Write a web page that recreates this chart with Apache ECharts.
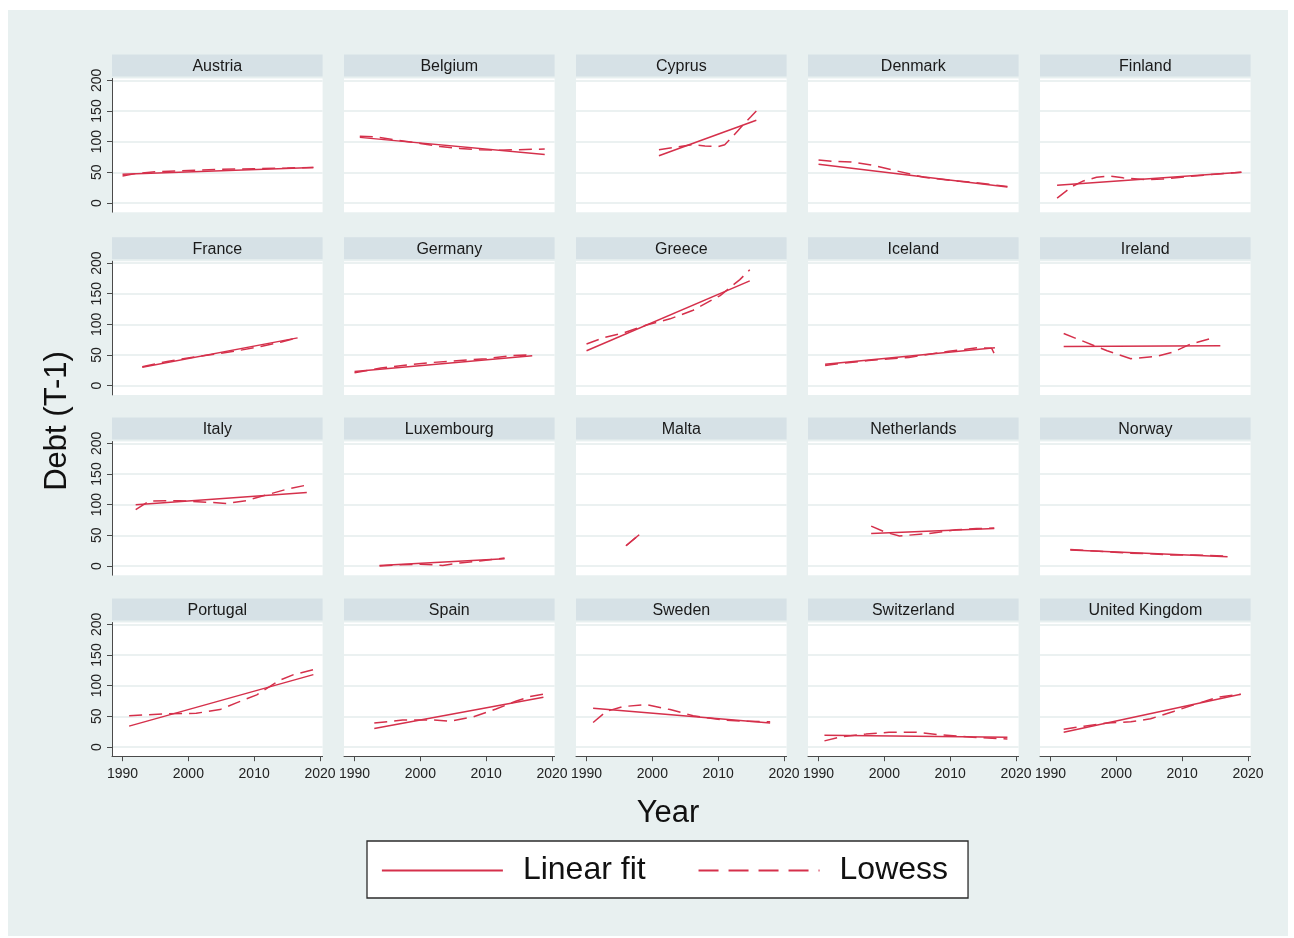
<!DOCTYPE html>
<html>
<head>
<meta charset="utf-8">
<script src="https://cdn.jsdelivr.net/npm/echarts@6/dist/echarts.min.js"></script>
<style>
  html, body { margin: 0; padding: 0; background: #ffffff; }
  #frame { position: absolute; left: 8px; top: 10px; width: 1280px; height: 926px; background: #e8f0f0; }
  #chart { position: absolute; left: 0; top: 0; width: 1294px; height: 938px; }
</style>
</head>
<body>
<div id="frame"></div>
<div id="chart"></div>
<script>
// Panels, in reading order (5 per row)
const countries = ['Austria', 'Belgium', 'Cyprus', 'Denmark', 'Finland',
  'France', 'Germany', 'Greece', 'Iceland', 'Ireland',
  'Italy', 'Luxembourg', 'Malta', 'Netherlands', 'Norway',
  'Portugal', 'Spain', 'Sweden', 'Switzerland', 'United Kingdom'];

// Linear fit of lagged debt on year: [year, debt] at the ends of each country's sample
const fitLines = [
  [[1990, 47], [2019, 58]],
  [[1990.8, 107], [2018.9, 79]],
  [[2001, 77], [2015.8, 135]],
  [[1990, 63], [2018.7, 26]],
  [[1991, 29], [2019, 50]],
  [[1993, 30], [2016.6, 78]],
  [[1990, 23], [2017, 49]],
  [[1990, 57], [2014.8, 171]],
  [[1991, 35], [2016.8, 62]],
  [[1992, 64], [2015.8, 65]],
  [[1992, 100], [2018, 120]],
  [[1993.8, 1], [2012.8, 12]],
  [[1996, 33], [1998, 51]],
  [[1998, 53], [2016.7, 61]],
  [[1993, 26], [2016.9, 15]],
  [[1991, 34], [2019, 118]],
  [[1993, 30], [2018.7, 81]],
  [[1991, 63], [2017.9, 39]],
  [[1990.9, 19], [2018.7, 16]],
  [[1992, 24], [2018.9, 86]]
];

// Lowess smooth of lagged debt on year
const lowessLines = [
  [[1990, 44], [1992, 48], [1995, 51], [2000, 53], [2005, 55], [2010, 56], [2015, 57], [2019, 58]],
  [[1990.8, 109], [1993, 108], [1996.8, 102], [2000, 97], [2003, 92], [2006, 89], [2009, 87], [2012, 86], [2015, 87], [2018.9, 88]],
  [[2001, 87], [2003, 90], [2006, 95], [2008, 93], [2010, 92], [2011, 95], [2012, 106], [2013, 118], [2014, 130], [2015, 141], [2015.8, 150]],
  [[1990, 70], [1992, 68], [1995, 67], [1998, 62], [2002, 52], [2006, 42], [2010, 37], [2014, 33], [2018.7, 27]],
  [[1991, 8], [1993.3, 27], [1995, 36], [1997, 42], [1999, 44], [2001, 41], [2004.4, 38], [2007, 39], [2010.8, 43], [2015, 47], [2019, 50]],
  [[1993, 31], [1997, 40], [2001, 47], [2005, 53], [2008, 58], [2011, 64], [2014, 71], [2016.6, 78]],
  [[1990, 21], [1994, 29], [1998, 34], [2002, 38], [2006, 41], [2010, 44], [2014, 49], [2016, 50], [2017, 46]],
  [[1990, 68], [1992.5, 78], [1995.6, 86], [1999.1, 99], [2002.7, 109], [2006.2, 123], [2010.3, 147], [2013.3, 173], [2014.8, 189]],
  [[1991, 33], [1994, 37], [1997.6, 41], [2001, 44], [2003.7, 46], [2006, 50], [2009.8, 56], [2014.3, 62], [2016.3, 61], [2016.9, 48]],
  [[1992, 85], [1994.6, 74], [1998.6, 57], [2002.2, 44], [2006.2, 48], [2008.7, 55], [2011.3, 68], [2015.1, 79]],
  [[1992, 92], [1994.1, 106], [1998.7, 106.5], [2002.8, 104], [2005.8, 102], [2008.8, 106.5], [2011.9, 116], [2014.9, 125], [2018, 132]],
  [[1993.8, 0], [1997, 2], [2000, 3], [2003.4, 1], [2006, 5], [2009, 8], [2012.8, 13]],
  [[1996, 33], [1998, 51]],
  [[1998, 65], [2000.2, 55], [2002.3, 49], [2006.8, 53], [2010.9, 59], [2014, 61], [2016.7, 62]],
  [[1993, 27], [1996, 25], [1999, 23], [2002, 21], [2005, 20], [2008, 18], [2012, 18], [2016.9, 16]],
  [[1991, 51], [1996.7, 54], [2001.2, 55], [2004.8, 61], [2007.3, 72], [2010.4, 85], [2013.9, 109], [2016, 118], [2019, 126]],
  [[1993, 39], [1997.3, 44], [2001.9, 44], [2004.4, 42], [2008, 49], [2011.5, 62], [2014.6, 75], [2016.6, 82], [2018.7, 86]],
  [[1991, 40], [1993, 58], [1995.6, 66], [1999.1, 69], [2002.7, 61], [2006.2, 51], [2010.8, 44], [2014, 42], [2017.9, 41]],
  [[1990.9, 10], [1993.6, 17], [1997.2, 21], [2000.7, 24], [2004.8, 24], [2008.3, 20], [2013.4, 16], [2018.7, 13]],
  [[1992, 29], [1995.1, 34], [1998.6, 39], [2002.2, 41], [2005.2, 46], [2008.7, 58], [2011.8, 69], [2015.3, 81], [2018.9, 86]]
];

const xTicks = [1990, 2000, 2010, 2020];
const yTicks = [0, 50, 100, 150, 200];

// ---- layout and style ----
const FONT = "'Liberation Sans', Arial, Helvetica, sans-serif";
const RED = '#d5304b';
const AXIS = '#4a4a4a';
const GRIDLINE = '#e4eced';
const STRIP = '#d6e1e6';
const COLS = 5;
const COL_LEFT = 112, COL_STEP = 232, PLOT_W = 210.6;
const ROW_TOP = [78.5, 261.2, 441.5, 622.5], PLOT_H = 133.7;
const STRIP_H = 22, STRIP_GAP = 2;
const LINE_W = 1.5;

const grids = [], xAxes = [], yAxes = [], series = [], graphics = [];

countries.forEach((name, i) => {
  const col = i % COLS, row = Math.floor(i / COLS);
  const left = COL_LEFT + col * COL_STEP;
  const top = ROW_TOP[row];
  const lastRow = row === ROW_TOP.length - 1;
  const firstCol = col === 0;

  grids.push({
    left: left, top: top, width: PLOT_W, height: PLOT_H,
    show: true, backgroundColor: '#ffffff', borderWidth: 0,
    containLabel: false, outerBoundsMode: 'none'
  });

  xAxes.push({
    type: 'value', gridIndex: i, min: 1988.4, max: 2020.4,
    splitLine: { show: false },
    axisLine: { show: lastRow, onZero: false, lineStyle: { color: AXIS, width: 1 } },
    axisTick: { show: lastRow, length: 5, customValues: xTicks, lineStyle: { color: AXIS } },
    axisLabel: {
      show: lastRow, customValues: xTicks, margin: 11,
      fontSize: 14, fontFamily: FONT, color: '#222',
      formatter: v => String(v)
    }
  });

  yAxes.push({
    type: 'value', gridIndex: i, min: -15, max: 203,
    splitLine: { show: true, lineStyle: { color: GRIDLINE, width: 1.5 } },
    axisLine: { show: firstCol, onZero: false, lineStyle: { color: AXIS, width: 1 } },
    axisTick: { show: firstCol, length: 5, customValues: yTicks, lineStyle: { color: AXIS } },
    axisLabel: {
      show: firstCol, customValues: yTicks, rotate: 90, margin: 8,
      fontSize: 14, fontFamily: FONT, color: '#222',
      formatter: v => String(v)
    }
  });

  series.push({
    type: 'line', name: 'Linear fit', xAxisIndex: i, yAxisIndex: i,
    data: fitLines[i], symbol: 'none', silent: true, animation: false,
    lineStyle: { color: RED, width: LINE_W, type: 'solid' }, itemStyle: { color: RED }
  });
  series.push({
    type: 'line', name: 'Lowess', xAxisIndex: i, yAxisIndex: i,
    data: lowessLines[i], symbol: 'none', silent: true, animation: false,
    lineStyle: { color: RED, width: LINE_W, type: [13, 7] }, itemStyle: { color: RED }
  });

  // panel strip with the country name
  graphics.push({
    type: 'rect', silent: true,
    shape: { x: left, y: top - STRIP_GAP - STRIP_H, width: PLOT_W, height: STRIP_H },
    style: { fill: STRIP }
  });
  graphics.push({
    type: 'text', silent: true,
    x: left + PLOT_W / 2, y: top - STRIP_GAP - STRIP_H / 2 + 1,
    style: { text: name, fontSize: 16, fontFamily: FONT, fill: '#1a1a1a', align: 'center', verticalAlign: 'middle' }
  });
});

// shared axis titles
graphics.push({
  type: 'text', silent: true, x: 57, y: 421, rotation: Math.PI / 2,
  style: { text: 'Debt (T-1)', fontSize: 31, fontFamily: FONT, fill: '#111', align: 'center', verticalAlign: 'middle' }
});
graphics.push({
  type: 'text', silent: true, x: 668, y: 813,
  style: { text: 'Year', fontSize: 31, fontFamily: FONT, fill: '#111', align: 'center', verticalAlign: 'middle' }
});

const hiddenMarker = { color: 'rgba(0,0,0,0)', borderColor: 'rgba(0,0,0,0)', borderWidth: 0 };

const chart = echarts.init(document.getElementById('chart'), null, { renderer: 'canvas' });
chart.setOption({
  backgroundColor: 'transparent',
  animation: false,
  grid: grids,
  xAxis: xAxes,
  yAxis: yAxes,
  series: series,
  graphic: { elements: graphics },
  legend: {
    left: 367, top: 841,
    orient: 'horizontal',
    selectedMode: false,
    backgroundColor: '#ffffff',
    borderColor: '#2b2b2b', borderWidth: 1.3, borderRadius: 0,
    padding: [10, 20, 8, 14],
    itemWidth: 121, itemHeight: 20, itemGap: 52,
    textStyle: { fontSize: 32, fontFamily: FONT, color: '#111', lineHeight: 34, padding: [5, 0, 0, 15] },
    data: [
      { name: 'Linear fit', itemStyle: hiddenMarker, lineStyle: { color: RED, width: 1.8, type: 'solid' } },
      { name: 'Lowess', itemStyle: hiddenMarker, lineStyle: { color: RED, width: 1.8, type: [20, 10] } }
    ]
  }
});
</script>
</body>
</html>
